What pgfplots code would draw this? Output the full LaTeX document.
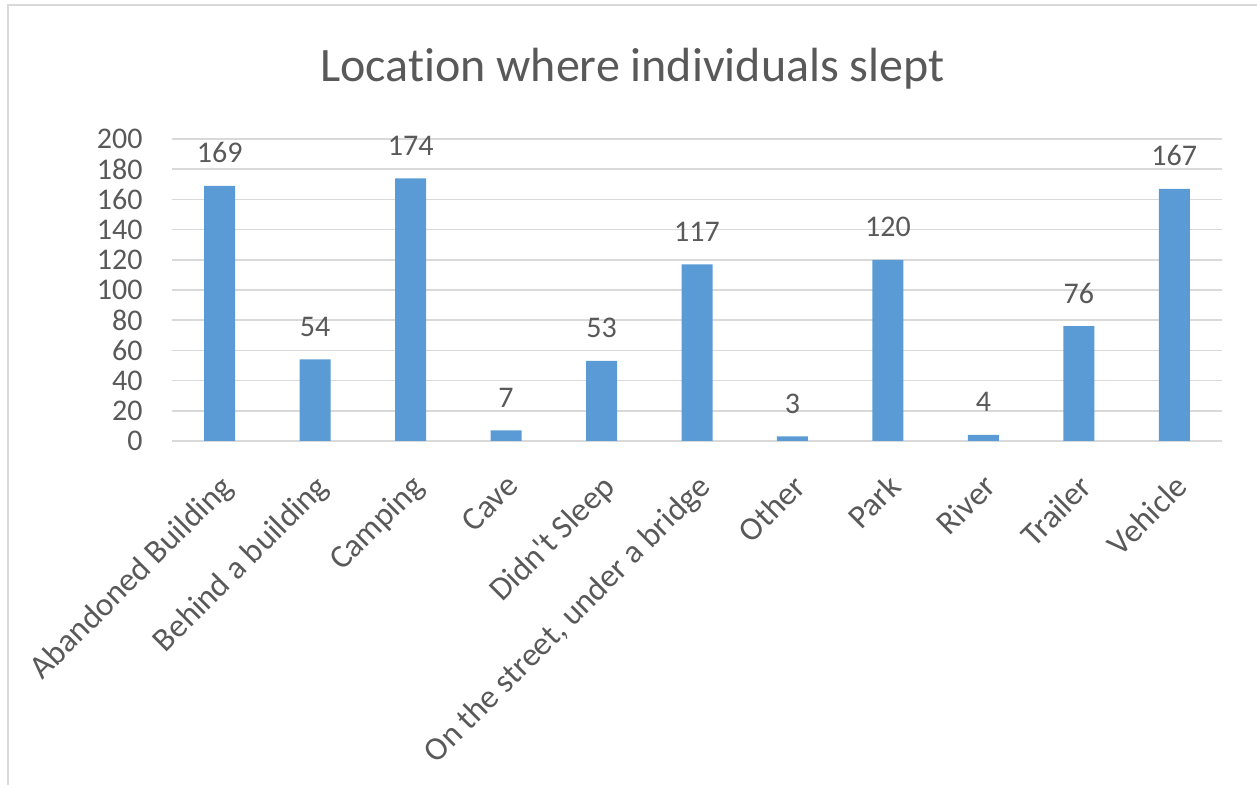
\documentclass[border=0pt]{standalone}
\usepackage{fontspec}
\setmainfont{Carlito}[Ligatures=NoCommon]
\newfontfamily\calibri{Carlito}[Ligatures=NoCommon]
\usepackage{pgfplots}
\pgfplotsset{compat=1.18}
\definecolor{barblue}{HTML}{5B9BD5}
\definecolor{txtgray}{HTML}{595959}
\definecolor{gridgray}{HTML}{D9D9D9}
\begin{document}
\begin{tikzpicture}
\useasboundingbox (0,0) rectangle (628.5pt,392.5pt);
% frame of the chart area (only left and top edge are visible)
\draw[gridgray, line width=1.2pt] (4pt,0) -- (4pt,390pt) -- (628.5pt,390pt);
\node[anchor=base, text=txtgray, inner sep=0pt, font=\calibri\fontsize{24}{28}\selectfont]
  at (316.25pt,351.5pt) {Location where individuals slept};
\begin{axis}[at={(86pt,172pt)}, anchor=south west, scale only axis,
    width=525pt, height=151pt,
    ybar, bar width=15.5pt,
    xmin=-0.5, xmax=10.5, ymin=0, ymax=200,
    ytick={0,20,...,200}, xtick={0,...,10},
    xticklabels={Abandoned Building, Behind a building, Camping, Cave,
      Didn{\calibri'}t Sleep, {On the street, under a bridge}, Other, Park,
      River, Trailer, Vehicle},
    axis line style={draw=none}, major tick length=0pt,
    ymajorgrids, grid style={gridgray, line width=0.8pt},
    /pgf/number format/assume math mode=true,
    tick label style={text=txtgray, font=\fontsize{15}{18}\selectfont},
    yticklabel style={anchor=east, inner sep=0pt, xshift=-14.5pt},
    xticklabel style={xshift=-0.7pt, yshift=-15.6pt, rotate=45, anchor=north east,
      inner sep=0pt, font=\fontsize{16.5}{19}\selectfont},
    nodes near coords,
    every node near coord/.append style={anchor=base, yshift=11.5pt, inner sep=0pt,
      text=txtgray, font=\fontsize{15}{18}\selectfont,
      /pgf/number format/assume math mode=true},
  ]
  \addplot[fill=barblue, draw=none] coordinates {
    (0,169) (1,54) (2,174) (3,7) (4,53) (5,117) (6,3) (7,120) (8,4) (9,76) (10,167)};
\end{axis}
\end{tikzpicture}
\end{document}
